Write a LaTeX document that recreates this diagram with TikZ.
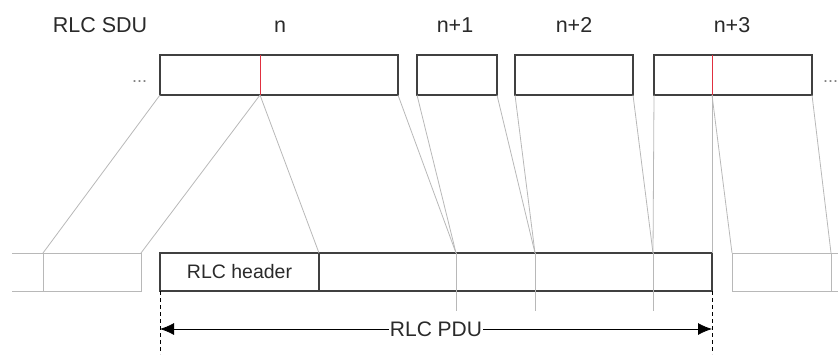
\documentclass[tikz,border=0pt]{standalone}
\usepackage{fontspec}
\setmainfont{Liberation Sans}
\usetikzlibrary{arrows.meta}
\definecolor{boxc}{HTML}{404040}
\definecolor{lnc}{HTML}{B8B8B8}
\definecolor{redc}{HTML}{E03040}
\definecolor{txtc}{HTML}{2A2A2A}
\begin{document}
\begin{tikzpicture}[x=1pt,y=-1pt,
  box/.style={draw=boxc, line width=1.1pt, inner sep=0pt, outer sep=0pt, anchor=north west, minimum height=40pt},
  pdubox/.style={draw=boxc, line width=1.1pt, inner sep=0pt, outer sep=0pt, anchor=north west, minimum height=38pt},
  conn/.style={draw=lnc, line width=0.8pt},
  redl/.style={draw=redc, line width=0.9pt},
  lbl/.style={font=\fontsize{21.5}{24}\selectfont, text=txtc, inner sep=0pt, anchor=base},
  dots/.style={font=\fontsize{18}{20}\selectfont, text=gray, inner sep=0pt, anchor=base west},
  dim/.style={draw=black, line width=0.8pt, {Latex[length=14pt,width=12pt]}-{Latex[length=14pt,width=12pt]}},
  dashv/.style={draw=black, line width=0.8pt, dash pattern=on 4pt off 3pt},
]
\useasboundingbox (0,0) rectangle (838,354);

% top labels
\node[lbl] (sdulbl) at (100,32) {RLC SDU};
\node[lbl] (ln0) at (280,32) {n};
\node[lbl] (ln1) at (455,32) {n+1};
\node[lbl] (ln2) at (574,32) {n+2};
\node[lbl] (ln3) at (732,32) {n+3};

% top SDU boxes
\node[box, minimum width=238pt] (n0) at (160,55) {};
\node[box, minimum width=80pt] (n1) at (417,55) {};
\node[box, minimum width=118pt] (n2) at (515,55) {};
\node[box, minimum width=158pt] (n3) at (654,55) {};
\node[dots] (dl) at (132,82) {...};
\node[dots] (dr) at (823,82) {...};

% red segmentation marks
\coordinate (r0t) at (260,55);
\coordinate (r0b) at (260,95);
\coordinate (r3t) at (712,55);
\coordinate (r3b) at (712,95);
\draw[redl] (r0t) -- (r0b);
\draw[redl] (r3t) -- (r3b);

% bottom PDU
\node[pdubox, minimum width=552pt] (pdu) at (160,253) {};
\node[pdubox, minimum width=159pt, font=\fontsize{19.5}{22}\selectfont, text=txtc] (hdr) at (160,253) {RLC header};

% dividers inside PDU
\coordinate (d1t) at (456,253); \coordinate (d1b) at (456,311);
\coordinate (d2t) at (535,253); \coordinate (d2b) at (535,311);
\coordinate (d3t) at (653,253); \coordinate (d3b) at (653,311);
\draw[conn] (d1t) -- (d1b);
\draw[conn] (d2t) -- (d2b);
\draw[conn] (d3t) -- (d3b);

% left partial PDU
\coordinate (la) at (12,253); \coordinate (lb) at (141,253);
\coordinate (lc) at (141,291); \coordinate (ld) at (12,291);
\coordinate (lmt) at (43,253); \coordinate (lmb) at (43,291);
\draw[conn] (la) -- (lb) -- (lc) -- (ld);
\draw[conn] (lmt) -- (lmb);

% right partial PDU
\coordinate (ra) at (838,253); \coordinate (rb) at (732,253);
\coordinate (rc) at (732,291); \coordinate (rd) at (838,291);
\coordinate (rmt) at (831,253); \coordinate (rmb) at (831,291);
\draw[conn] (ra) -- (rb) -- (rc) -- (rd);
\draw[conn] (rmt) -- (rmb);

% mapping connectors
\draw[conn] (n0.south west) -- (lmt);
\draw[conn] (r0b) -- (lb);
\draw[conn] (r0b) -- (hdr.north east);
\draw[conn] (n0.south east) -- (d1t);
\draw[conn] (n1.south west) -- (d1t);
\draw[conn] (n1.south east) -- (d2t);
\draw[conn] (n2.south west) -- (d2t);
\draw[conn] (n2.south east) -- (d3t);
\draw[conn] (n3.south west) -- (d3t);
\draw[conn] (r3b) -- (pdu.north east);
\draw[conn] (r3b) -- (rb);
\draw[conn] (n3.south east) -- (rmt);

% dimension
\coordinate (dlt) at (160,291); \coordinate (dlb) at (160,354);
\coordinate (drt) at (712,291); \coordinate (drb) at (712,354);
\draw[dashv] (dlt) -- (dlb);
\draw[dashv] (drt) -- (drb);
\coordinate (al) at (160,329); \coordinate (ar) at (712,329);
\draw[dim] (al) -- (ar) node[midway, fill=white, inner sep=1pt, font=\fontsize{21}{24}\selectfont, text=txtc] (pdulbl) {RLC PDU};
\end{tikzpicture}
\end{document}
